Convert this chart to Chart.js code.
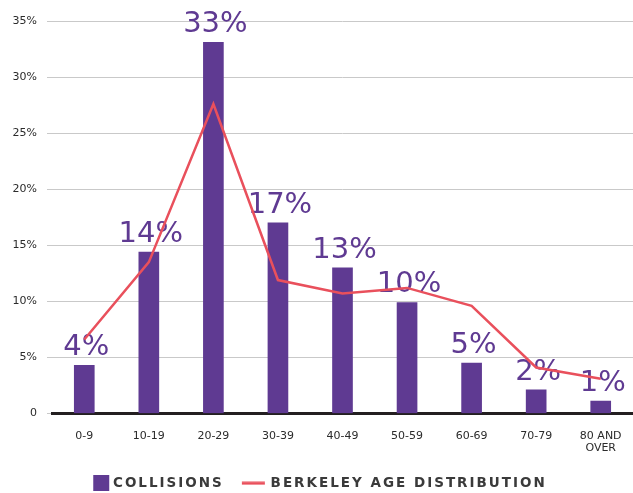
<!DOCTYPE html>
<html>
<head>
<meta charset="utf-8">
<script src="https://cdn.jsdelivr.net/npm/chart.js@4"></script>
<style>
  html, body { margin: 0; padding: 0; background: #fff; }
  #wrap { width: 633px; height: 493px; }
</style>
</head>
<body>
<div id="wrap"><canvas id="chart-age"></canvas></div>
<script>
// data (percent)
var categories = ["0-9", "10-19", "20-29", "30-39", "40-49", "50-59", "60-69", "70-79", ["80 AND", "OVER"]];
var collisions = [4.3, 14.4, 33.1, 17.0, 13.0, 9.9, 4.5, 2.1, 1.1];
var ageDistribution = [6.6, 13.5, 27.6, 11.9, 10.7, 11.2, 9.6, 4.1, 3.1];
var valueLabels = ["4%", "14%", "33%", "17%", "13%", "10%", "5%", "2%", "1%"];
var yMax = 35;
var yStep = 5;

var purple = "#5f3a92";
var red = "#e9505c";
var textColor = "#2b2b2b";
var fontFamily = "'DejaVu Sans', sans-serif";

// legend markers as small canvases, so the square and the line can differ
function marker(w, h, draw) {
    var c = document.createElement("canvas");
    c.width = w;
    c.height = h;
    draw(c.getContext("2d"));
    return c;
}
var squareMarker = marker(44, 16, function (g) {
    g.fillStyle = purple;
    g.fillRect(19, 0, 16, 16);
});
var lineMarker = marker(44, 4, function (g) {
    g.fillStyle = red;
    g.fillRect(10, 0.5, 23, 3);
});

// big percentage labels above the bars, drawn before the line goes on top
var barLabels = {
    id: "barLabels",
    afterDatasetDraw: function (chart, args) {
        if (args.index !== 0) return;
        var ctx = chart.ctx;
        ctx.save();
        ctx.letterSpacing = "0px";
        ctx.font = "29px " + fontFamily;
        ctx.fillStyle = purple;
        ctx.textAlign = "center";
        ctx.textBaseline = "alphabetic";
        args.meta.data.forEach(function (bar, i) {
            ctx.fillText(valueLabels[i], bar.x + 2, bar.y - 10);
        });
        ctx.restore();
    }
};

// spaced-out capitals in the legend only
var legendSpacing = {
    id: "legendSpacing",
    beforeLayout: function (chart) {
        var lg = chart.legend;
        if (!lg || lg._spaced) return;
        lg._spaced = true;
        ["fit", "draw"].forEach(function (fn) {
            var orig = lg[fn];
            lg[fn] = function () {
                var old = this.ctx.letterSpacing;
                this.ctx.letterSpacing = "2px";
                var r = orig.apply(this, arguments);
                this.ctx.letterSpacing = old;
                return r;
            };
        });
    }
};

var ctx = document.getElementById("chart-age").getContext("2d");

new Chart(ctx, {
    type: "bar",
    data: {
        labels: categories,
        datasets: [{
            label: "COLLISIONS",
            data: collisions,
            backgroundColor: purple,
            borderWidth: 0,
            barThickness: 20,
            pointStyle: squareMarker,
            order: 1
        },
        {
            type: "line",
            label: "BERKELEY AGE DISTRIBUTION",
            data: ageDistribution,
            borderColor: red,
            backgroundColor: red,
            borderWidth: 2.5,
            tension: 0,
            pointRadius: 0,
            fill: false,
            pointStyle: lineMarker,
            order: 0
        }]
    },
    options: {
        responsive: true,
        maintainAspectRatio: false,
        animation: false,
        layout: {
            padding: { top: 21, right: 0, bottom: -7, left: 0 }
        },
        plugins: {
            tooltip: { enabled: false },
            legend: {
                position: "bottom",
                labels: {
                    usePointStyle: true,
                    pointStyleWidth: 20,
                    padding: 20,
                    color: "#3a3a3a",
                    font: { size: 13.5, weight: "bold", family: fontFamily },
                    sort: function (a, b) { return a.datasetIndex - b.datasetIndex; }
                }
            }
        },
        scales: {
            x: {
                afterFit: function (scale) {
                    scale.height = 43;
                    scale.paddingLeft = 0;
                    scale.paddingRight = 0;
                },
                grid: { display: false, drawTicks: false },
                border: { display: true, color: "#231f20", width: 3 },
                ticks: {
                    color: textColor,
                    padding: 16,
                    maxRotation: 0,
                    autoSkip: false,
                    font: { size: 11, family: fontFamily, lineHeight: 1.15 }
                }
            },
            y: {
                min: 0,
                max: yMax,
                afterFit: function (scale) { scale.width = 52; },
                grid: {
                    color: "#c9c9c9",
                    lineWidth: 1,
                    drawTicks: true,
                    tickLength: 5
                },
                border: { display: false },
                ticks: {
                    stepSize: yStep,
                    padding: 10,
                    color: textColor,
                    font: { size: 11, family: fontFamily },
                    callback: function (v) { return v === 0 ? "0" : v + "%"; }
                }
            }
        }
    },
    plugins: [barLabels, legendSpacing]
});
</script>
</body>
</html>
